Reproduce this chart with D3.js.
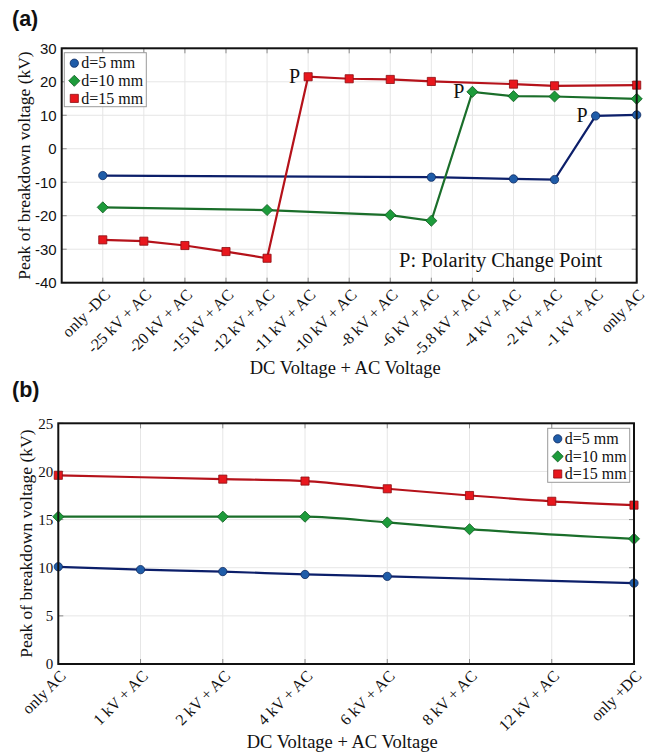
<!DOCTYPE html>
<html>
<head>
<meta charset="utf-8">
<script src="https://cdn.jsdelivr.net/npm/d3@7"></script>
<style>
  body { margin: 0; background: #fff; }
  svg { display: block; }
</style>
</head>
<body>
<svg id="fig" width="667" height="756"></svg>
<script>
// ---- Panel (a): DC (negative) + AC ----
const catsA = ["only -DC", "-25 kV + AC", "-20 kV + AC", "-15 kV + AC", "-12 kV + AC",
  "-11 kV + AC", "-10 kV + AC", "-8 kV + AC", "-6 kV + AC", "-5.8 kV + AC",
  "-4 kV + AC", "-2 kV + AC", "-1 kV + AC", "only AC"];
const d5A  = [-8.0, null, null, null, null, null, null, null, -8.5, null, -9.0, -9.2, 9.8, 10.1];
const d10A = [-17.5, null, null, null, -18.3, null, null, -19.8, -21.5, 17.0, 15.7, 15.6, null, 14.9];
const d15A = [-27.2, -27.6, -28.9, -30.7, -32.7, 21.5, 20.9, 20.7, 20.1, null, 19.3, 18.8, null, 19.0];
const yTicksA = [-40, -30, -20, -10, 0, 10, 20, 30];
// polarity change points: [series index, category index]
const pMarksA = [[2, 5], [1, 9], [0, 12]];

// ---- Panel (b): DC (positive) + AC ----
const catsB = ["only AC", "1 kV + AC", "2 kV + AC", "4 kV + AC", "6 kV + AC",
  "8 kV + AC", "12 kV + AC", "only +DC"];
const d5B  = [10.1, 9.8, 9.6, 9.3, 9.1, null, null, 8.4];
const d10B = [15.3, null, 15.3, 15.3, 14.7, 14.0, null, 13.0];
const d15B = [19.6, null, 19.2, 19.0, 18.2, 17.5, 16.9, 16.5];
const yTicksB = [0, 5, 10, 15, 20, 25];

const seriesNames = ["d=5 mm", "d=10 mm", "d=15 mm"];

// square rotated by 45 degrees
const symbolRhombus = {
  draw(ctx, size) {
    const r = Math.sqrt(size / 2);
    ctx.moveTo(0, -r); ctx.lineTo(r, 0); ctx.lineTo(0, r); ctx.lineTo(-r, 0); ctx.closePath();
  }
};

const styles = [
  { line: "#0c1f6a", fill: "#1f5ca8", stroke: "#0f2a60", shape: d3.symbolCircle, size: 54 },
  { line: "#1a6e2a", fill: "#1d9b3b", stroke: "#0d5a1e", shape: symbolRhombus, size: 62 },
  { line: "#b5121a", fill: "#e8171d", stroke: "#8c0d12", shape: d3.symbolSquare, size: 66 }
];

const SERIF = "'Liberation Serif', 'Times New Roman', serif";
const SANS = "'Liberation Sans', Arial, sans-serif";
const svg = d3.select("#fig");

function panel(cfg) {
  const { left, right, top, bottom, cats, series, yDomain, yTicks, padStart, curve, yFont } = cfg;
  const g = svg.append("g");
  let x;
  if (padStart) {
    const step = (right - left) / cats.length;
    x = d3.scalePoint().domain(cats).range([left + step, right]);
  } else {
    x = d3.scalePoint().domain(cats).range([left, right]);
  }
  const y = d3.scaleLinear().domain(yDomain).range([bottom, top]);

  // grid
  g.append("g").selectAll("line").data(cats).join("line")
    .attr("x1", d => x(d)).attr("x2", d => x(d))
    .attr("y1", top).attr("y2", bottom)
    .attr("stroke", "#e6e6e6").attr("stroke-width", 1);
  g.append("g").selectAll("line").data(yTicks).join("line")
    .attr("x1", left).attr("x2", right)
    .attr("y1", d => y(d)).attr("y2", d => y(d))
    .attr("stroke", "#e6e6e6").attr("stroke-width", 1);

  // inward tick marks on all sides
  const tk = g.append("g").attr("stroke", "#8a8a8a").attr("stroke-width", 1);
  cats.forEach(c => {
    tk.append("line").attr("x1", x(c)).attr("x2", x(c)).attr("y1", top).attr("y2", top + 5);
    tk.append("line").attr("x1", x(c)).attr("x2", x(c)).attr("y1", bottom).attr("y2", bottom - 5);
  });
  yTicks.forEach(v => {
    tk.append("line").attr("x1", left).attr("x2", left + 5).attr("y1", y(v)).attr("y2", y(v));
    tk.append("line").attr("x1", right).attr("x2", right - 5).attr("y1", y(v)).attr("y2", y(v));
  });

  // y tick labels
  const ya = g.append("g").attr("transform", `translate(${left},0)`)
    .call(d3.axisLeft(y).tickValues(yTicks).tickSize(0).tickPadding(5).tickFormat(d => String(d)));
  ya.select(".domain").remove();
  ya.selectAll("text").attr("font-family", yFont).attr("font-size", 15).attr("fill", "#111");

  // x tick labels (rotated)
  const xa = g.append("g").attr("transform", `translate(0,${bottom})`)
    .call(d3.axisBottom(x).tickSize(0));
  xa.select(".domain").remove();
  xa.selectAll("text")
    .attr("font-family", SERIF).attr("font-size", 16).attr("fill", "#111")
    .attr("text-anchor", "end")
    .attr("y", 0).attr("dy", 0)
    .attr("transform", "translate(8,13) rotate(-45)");

  // lines and markers
  series.forEach((vals, i) => {
    const st = styles[i];
    const pts = cats.map((c, k) => ({ c, v: vals[k] })).filter(p => p.v !== null);
    const line = d3.line().x(p => x(p.c)).y(p => y(p.v)).curve(curve);
    g.append("path").datum(pts)
      .attr("d", line).attr("fill", "none")
      .attr("stroke", st.line).attr("stroke-width", 2.2);
    g.append("g").selectAll("path").data(pts).join("path")
      .attr("transform", p => `translate(${x(p.c)},${y(p.v)})`)
      .attr("d", d3.symbol().type(st.shape).size(st.size))
      .attr("fill", st.fill).attr("stroke", st.stroke).attr("stroke-width", 0.8);
  });

  // frame
  g.append("rect").attr("x", left).attr("y", top)
    .attr("width", right - left).attr("height", bottom - top)
    .attr("fill", "none").attr("stroke", "#111").attr("stroke-width", 2);

  // axis titles
  g.append("text")
    .attr("transform", `translate(${cfg.yTitleX},${(top + bottom) / 2}) rotate(-90)`)
    .attr("text-anchor", "middle").attr("dominant-baseline", "central")
    .attr("font-family", SERIF).attr("font-size", 17.5).attr("fill", "#111")
    .text("Peak of breakdown voltage (kV)");
  g.append("text")
    .attr("x", (left + right) / 2 - 4).attr("y", cfg.xTitleY)
    .attr("text-anchor", "middle")
    .attr("font-family", SERIF).attr("font-size", 18.5).attr("fill", "#111")
    .text("DC Voltage + AC Voltage");

  // legend
  const lg = g.append("g").attr("transform", `translate(${cfg.legend[0]},${cfg.legend[1]})`);
  lg.append("rect").attr("width", 82).attr("height", 54)
    .attr("fill", "#fff").attr("stroke", "#9a9a9a").attr("stroke-width", 1);
  seriesNames.forEach((n, i) => {
    const st = styles[i];
    const cy = 10.5 + i * 17.6;
    lg.append("path").attr("transform", `translate(10,${cy})`)
      .attr("d", d3.symbol().type(st.shape).size(st.size))
      .attr("fill", st.fill).attr("stroke", st.stroke).attr("stroke-width", 0.8);
    lg.append("text").attr("x", 17).attr("y", cy).attr("dy", "0.33em")
      .attr("font-family", SERIF).attr("font-size", 16).attr("fill", "#111")
      .text(n);
  });

  return { g, x, y };
}

// panel labels
svg.append("text").attr("x", 12).attr("y", 26)
  .attr("font-family", SANS).attr("font-weight", "bold").attr("font-size", 21.5)
  .attr("fill", "#111").text("(a)");
svg.append("text").attr("x", 12).attr("y", 397)
  .attr("font-family", SANS).attr("font-weight", "bold").attr("font-size", 21.5)
  .attr("fill", "#111").text("(b)");

const pa = panel({
  left: 61.7, right: 636.7, top: 48.3, bottom: 282.7,
  cats: catsA, series: [d5A, d10A, d15A], yDomain: [-40, 30], yTicks: yTicksA,
  padStart: true, curve: d3.curveLinear, yFont: SANS,
  yTitleX: 24, xTitleY: 374, legend: [64.3, 52.7]
});

// "P" markers at polarity change points
const allA = [d5A, d10A, d15A];
pMarksA.forEach(([s, k]) => {
  pa.g.append("text")
    .attr("x", pa.x(catsA[k]) - 8).attr("y", pa.y(allA[s][k]) + 6)
    .attr("text-anchor", "end")
    .attr("font-family", SERIF).attr("font-size", 20).attr("fill", "#111")
    .text("P");
});
pa.g.append("text").attr("x", 399).attr("y", 267)
  .attr("font-family", SERIF).attr("font-size", 20.5).attr("fill", "#111")
  .text("P: Polarity Change Point");

panel({
  left: 58.3, right: 634, top: 423.3, bottom: 664,
  cats: catsB, series: [d5B, d10B, d15B], yDomain: [0, 25], yTicks: yTicksB,
  padStart: false, curve: d3.curveMonotoneX, yFont: SERIF,
  yTitleX: 26, xTitleY: 748, legend: [547.7, 428.3]
});
</script>
</body>
</html>
